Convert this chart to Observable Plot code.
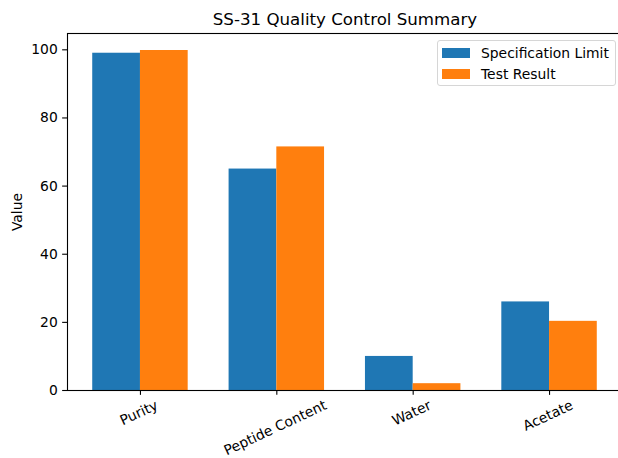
<!DOCTYPE html>
<html><head><meta charset="utf-8">
<script src="https://cdn.jsdelivr.net/npm/d3@7"></script>
<script src="https://cdn.jsdelivr.net/npm/@observablehq/plot@0.6"></script>
<style>
html,body{margin:0;padding:0;background:#fff;overflow:hidden}
#wrap{position:relative;width:618px;height:458px;overflow:hidden}
#wrap svg{display:block}
.legend{position:absolute;left:437px;top:40px;width:179px;height:46px;border:1px solid #d6d6d6;border-radius:3px;background:rgba(255,255,255,0.8);box-sizing:border-box;font-family:"DejaVu Sans";font-size:13.89px;color:#000}
.item{position:absolute;left:4px;height:20px;display:flex;align-items:center}
.sw{width:28px;height:10px;margin-right:11px}
</style></head>
<body><div id="wrap"></div>
<script>
const title = "SS-31 Quality Control Summary";
const yLabel = "Value";
const categories = ["Purity", "Peptide Content", "Water", "Acetate"];
const seriesNames = ["Specification Limit", "Test Result"];
const specLimit = [99, 65, 10, 26];
const testResult = [99.8, 71.5, 2, 20.3];
const yTicks = [0, 20, 40, 60, 80, 100];
const colors = ["#1f77b4", "#ff7f0e"];

const specRows = categories.map((c, i) => ({category: c, series: seriesNames[0], value: specLimit[i]}));
const testRows = categories.map((c, i) => ({category: c, series: seriesNames[1], value: testResult[i]}));
const yMax = d3.max([...specLimit, ...testResult]) * 1.05;

const W = 618, H = 458, ML = 67, MR = -4, MT = 33, MB = 68;
const PI = 0.3, PO = 0.185;
const step = (W - ML - MR) / (categories.length - PI + 2 * PO);
const bw = step * (1 - PI);
const fs = 13.89;

const ctx = document.createElement("canvas").getContext("2d");
ctx.font = fs + "px 'DejaVu Sans'";
const rad = 25 * Math.PI / 180;
const labelMarks = categories.map(c => {
  const w = ctx.measureText(c).width;
  const h = fs * 1.0;
  const off = 4.86 + 2.8 + (w * Math.sin(rad) + h * Math.cos(rad)) / 2;
  return Plot.text([c], {x: d => d, frameAnchor: "bottom", rotate: -25, textAnchor: "middle", lineAnchor: "middle", dy: off, dx: -1.5, fontSize: fs, fill: "#000"});
});

const plot = Plot.plot({
  width: W, height: H, marginLeft: ML, marginRight: MR, marginTop: MT, marginBottom: MB,
  style: {fontFamily: "DejaVu Sans", fontSize: fs + "px", color: "#000", background: "transparent", overflow: "visible"},
  x: {domain: categories, paddingInner: PI, paddingOuter: PO, round: false, axis: null},
  y: {domain: [0, yMax], axis: null},
  marks: [
    Plot.barY(specRows, {x: "category", y: "value", fill: colors[0], insetLeft: 0, insetRight: bw / 2}),
    Plot.barY(testRows, {x: "category", y: "value", fill: colors[1], insetLeft: bw / 2, insetRight: 0}),
    Plot.axisY({ticks: yTicks, tickSize: 4.86, tickPadding: 4.86, label: null, fontSize: fs, stroke: "#000", strokeWidth: 1.1}),
    Plot.axisX({tickSize: 4.86, tickFormat: () => "", label: null, stroke: "#000", strokeWidth: 1.1}),
    Plot.frame({stroke: "#000", strokeWidth: 1.1}),
    Plot.text([title], {frameAnchor: "top", lineAnchor: "bottom", dy: -8.3, fontSize: 16.67, fill: "#000"}),
    Plot.text([yLabel], {frameAnchor: "left", rotate: -90, textAnchor: "middle", lineAnchor: "bottom", dx: 21 - ML, fontSize: fs, fill: "#000"}),
    ...labelMarks
  ]
});
const wrap = document.getElementById("wrap");
wrap.appendChild(plot);

const legend = document.createElement("div");
legend.className = "legend";
seriesNames.forEach((name, i) => {
  const item = document.createElement("div");
  item.className = "item";
  item.style.top = (2 + i * 20.5) + "px";
  const sw = document.createElement("div");
  sw.className = "sw";
  sw.style.background = colors[i];
  const tx = document.createElement("span");
  tx.textContent = name;
  item.appendChild(sw);
  item.appendChild(tx);
  legend.appendChild(item);
});
wrap.appendChild(legend);
</script>
</body></html>
